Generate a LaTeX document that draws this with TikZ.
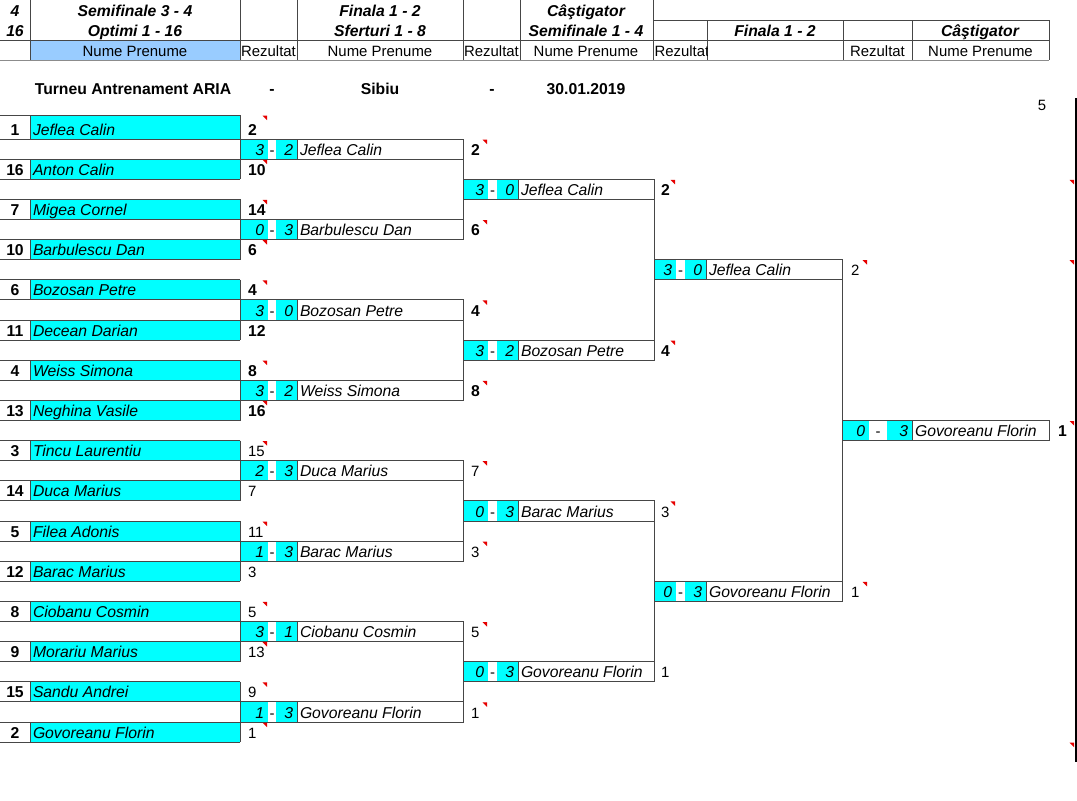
\documentclass[tikz,border=0pt]{standalone}
\usepackage{fontspec}
\setmainfont{Liberation Sans}
\definecolor{cyanC}{RGB}{0,255,255}
\definecolor{blueH}{RGB}{153,204,255}
\definecolor{lineC}{RGB}{70,70,70}
\definecolor{markC}{RGB}{230,0,0}
\newcommand\fr{\fontsize{11.2}{13}\selectfont}
\newcommand\fb{\fontsize{11.8}{13}\selectfont}
\tikzset{
  ln/.style={draw=lineC, line width=0.75pt},
  hdrline/.style={draw=black!45, line width=1.3pt},
  cyanfill/.style={fill=cyanC},
  txt/.style={inner sep=0pt, outer sep=0pt, font=\fr},
  hbi/.style={txt, anchor=base, font=\fb\bfseries\itshape},
  hr/.style={txt, anchor=base},
  hrw/.style={txt, anchor=base west},
  ttl/.style={txt, anchor=base, font=\fb\bfseries},
  seedt/.style={txt, anchor=base, font=\fb\bfseries},
  nm/.style={txt, anchor=base west, font=\fb\itshape},
  sc/.style={txt, anchor=base east, font=\fb\itshape},
  dsh/.style={txt, anchor=base},
  res/.style={txt, anchor=base west},
}
\newcommand\mk[2]{\fill[markC] (#1-4.5,#2+0.5) -- (#1,#2+0.5) -- (#1,#2+5) -- cycle;}
% player row: k, seed, name, result, font, mark
\newcommand\plyr[6]{%
  \pgfmathsetmacro\yt{ifthenelse(#1==0,115,119+20.1*#1)}%
  \pgfmathsetmacro\yb{119+20.1*(#1+1)}%
  \fill[cyanfill] (30,\yt) rectangle (240,\yb);
  \draw[ln] (0,\yt) -- (240,\yt) (0,\yb) -- (240,\yb) (30,\yt) -- (30,\yb) (240,\yt) -- (240,\yb);
  \node[seedt] (p#1s) at (15,\yb-4) {#2};
  \node[nm] (p#1n) at (33,\yb-4) {#3};
  \node[res, font=#5] (p#1r) at (248,\yb-4) {#4};
  \ifnum#6=1 \mk{267}{\yt}\fi
}
\newcommand\setcols[8]{\def\cA{#1}\def\cB{#2}\def\cC{#3}\def\cD{#4}\def\cE{#5}\def\cR{#6}\def\cM{#7}\def\cid{#8}}
% match cell: k, s1, s2, name, result, font, mark
\newcommand\mtch[7]{%
  \pgfmathsetmacro\yt{119+20.1*#1}%
  \pgfmathsetmacro\yb{119+20.1*(#1+1)}%
  \fill[cyanfill] (\cA,\yt) rectangle (\cB,\yb);
  \fill[cyanfill] (\cC,\yt) rectangle (\cD,\yb);
  \draw[ln] (\cA,\yt) rectangle (\cE,\yb) (\cD,\yt) -- (\cD,\yb);
  \node[sc] (\cid#1a) at (\cB-4,\yb-4) {#2};
  \node[dsh] (\cid#1d) at ({(\cB+\cC)/2},\yb-4) {-};
  \node[sc] (\cid#1b) at (\cD-4,\yb-4) {#3};
  \node[nm] (\cid#1n) at (\cD+3,\yb-4) {#4};
  \node[res, font=#6] (\cid#1r) at (\cR,\yb-4) {#5};
  \ifnum#7=1 \mk{\cM}{\yt}\fi
}
\newcommand\vcon[3]{\draw[ln] (#1,{119+20.1*#2}) -- (#1,{119+20.1*#3});}
\begin{document}
\begin{tikzpicture}[x=0.75pt,y=-0.75pt]
\useasboundingbox[fill=white] (0,0) rectangle (1077,800);
% ---------- header ----------
\fill[blueH] (30,40) rectangle (240,60);
\draw[ln] (30,40) rectangle (240,60);
\draw[ln] (30,0) -- (30,60) (240,0) -- (240,60) (297,0) -- (297,60)
          (463,0) -- (463,60) (520,0) -- (520,60) (653,0) -- (653,60);
\draw[ln] (707,20) -- (707,60) (843,20) -- (843,60) (912,20) -- (912,60) (1049,20) -- (1049,60);
\draw[ln] (653,20) -- (1049,20);
\draw[ln] (0,40) -- (1049,40);
\draw[hdrline] (0,60.5) -- (1049,60.5);
\node[hbi] (h1a) at (15,16) {4};
\node[hbi] (h1b) at (135,16) {Semifinale 3 - 4};
\node[hbi] (h1c) at (380,16) {Finala 1 - 2};
\node[hbi] (h1d) at (586,16) {Câştigator};
\node[hbi] (h2a) at (15,36) {16};
\node[hbi] (h2b) at (135,36) {Optimi 1 - 16};
\node[hbi] (h2c) at (380,36) {Sferturi 1 - 8};
\node[hbi] (h2d) at (586,36) {Semifinale 1 - 4};
\node[hbi] (h2e) at (775,36) {Finala 1 - 2};
\node[hbi] (h2f) at (980,36) {Câştigator};
\node[hr] (h3a) at (135,56) {Nume Prenume};
\node[hr] (h3b) at (268.5,56) {Rezultat};
\node[hr] (h3c) at (380,56) {Nume Prenume};
\node[hr] (h3d) at (491.5,56) {Rezultat};
\node[hr] (h3e) at (586,56) {Nume Prenume};
\begin{scope}
\clip (653,40) rectangle (707,60);
\node[hrw] (h3f) at (654.5,56) {Rezultat};
\end{scope}
\node[hr] (h3g) at (877.5,56) {Rezultat};
\node[hr] (h3h) at (980.5,56) {Nume Prenume};
% ---------- title ----------
\node[ttl] (t1) at (133,94) {Turneu Antrenament ARIA};
\node[ttl] (t2) at (272,94) {-};
\node[ttl] (t3) at (380,94) {Sibiu};
\node[ttl] (t4) at (492,94) {-};
\node[ttl] (t5) at (586,94) {30.01.2019};
\node[hr] (five) at (1042,110) {5};
% ---------- round 1 ----------
\plyr{0}{1}{Jeflea Calin}{2}{\fb\bfseries}{1}
\plyr{2}{16}{Anton Calin}{10}{\fb\bfseries}{1}
\plyr{4}{7}{Migea Cornel}{14}{\fb\bfseries}{1}
\plyr{6}{10}{Barbulescu Dan}{6}{\fb\bfseries}{1}
\plyr{8}{6}{Bozosan Petre}{4}{\fb\bfseries}{1}
\plyr{10}{11}{Decean Darian}{12}{\fb\bfseries}{0}
\plyr{12}{4}{Weiss Simona}{8}{\fb\bfseries}{1}
\plyr{14}{13}{Neghina Vasile}{16}{\fb\bfseries}{1}
\plyr{16}{3}{Tincu Laurentiu}{15}{\fr}{1}
\plyr{18}{14}{Duca Marius}{7}{\fr}{0}
\plyr{20}{5}{Filea Adonis}{11}{\fr}{1}
\plyr{22}{12}{Barac Marius}{3}{\fr}{0}
\plyr{24}{8}{Ciobanu Cosmin}{5}{\fr}{1}
\plyr{26}{9}{Morariu Marius}{13}{\fr}{1}
\plyr{28}{15}{Sandu Andrei}{9}{\fr}{1}
\plyr{30}{2}{Govoreanu Florin}{1}{\fr}{1}
% ---------- round 2 ----------
\setcols{240}{268}{276}{297}{463}{471}{487}{b}
\mtch{1}{3}{2}{Jeflea Calin}{2}{\fb\bfseries}{1}
\mtch{5}{0}{3}{Barbulescu Dan}{6}{\fb\bfseries}{1}
\mtch{9}{3}{0}{Bozosan Petre}{4}{\fb\bfseries}{1}
\mtch{13}{3}{2}{Weiss Simona}{8}{\fb\bfseries}{1}
\mtch{17}{2}{3}{Duca Marius}{7}{\fr}{1}
\mtch{21}{1}{3}{Barac Marius}{3}{\fr}{1}
\mtch{25}{3}{1}{Ciobanu Cosmin}{5}{\fr}{1}
\mtch{29}{1}{3}{Govoreanu Florin}{1}{\fr}{1}
\vcon{463}{1}{6}\vcon{463}{9}{14}\vcon{463}{17}{22}\vcon{463}{25}{30}
% ---------- round 3 ----------
\setcols{463}{488}{497}{518}{654}{661}{675}{c}
\mtch{3}{3}{0}{Jeflea Calin}{2}{\fb\bfseries}{1}
\mtch{11}{3}{2}{Bozosan Petre}{4}{\fb\bfseries}{1}
\mtch{19}{0}{3}{Barac Marius}{3}{\fr}{1}
\mtch{27}{0}{3}{Govoreanu Florin}{1}{\fr}{0}
\vcon{654}{3}{12}\vcon{654}{19}{28}
% ---------- round 4 ----------
\setcols{654}{676}{685}{706}{842}{851}{867}{d}
\mtch{7}{3}{0}{Jeflea Calin}{2}{\fr}{1}
\mtch{23}{0}{3}{Govoreanu Florin}{1}{\fr}{1}
\vcon{842}{7}{24}
% ---------- final ----------
\setcols{842}{869}{887}{912}{1049}{1058}{1074}{e}
\mtch{15}{0}{3}{Govoreanu Florin}{1}{\fb\bfseries}{1}
% ---------- right edge ----------
\draw[draw=black, line width=1pt] (1076,98) -- (1076,762);
\mk{1074}{179.3}
\mk{1074}{259.7}
\mk{1074}{742.1}
\end{tikzpicture}
\end{document}
